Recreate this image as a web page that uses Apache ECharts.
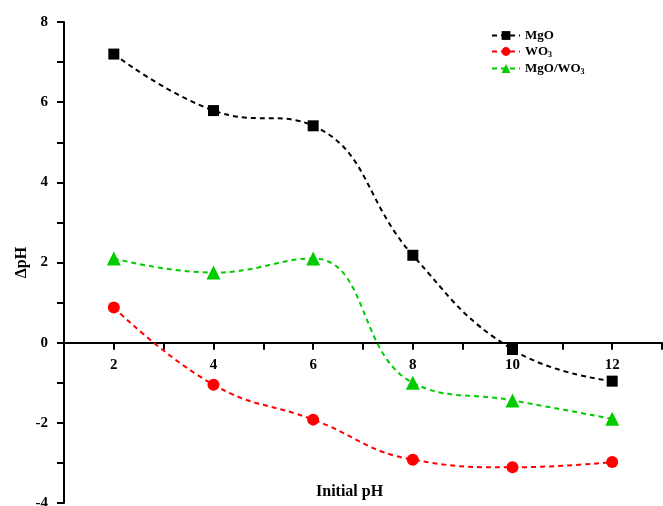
<!DOCTYPE html>
<html><head><meta charset="utf-8">
<script src="https://cdn.jsdelivr.net/npm/echarts@6/dist/echarts.min.js"></script>
<style>html,body{margin:0;padding:0;background:#fff}#c{width:663px;height:506px}</style>
</head><body><div id="c"></div>
<script>
const xValues = [2, 4, 6, 8, 10, 12];
const mgo = [7.2, 5.79, 5.41, 2.18, -0.17, -0.96];
const wo3 = [0.88, -1.05, -1.92, -2.92, -3.11, -2.98];
const mgoWo3 = [2.1, 1.75, 2.1, -1.0, -1.44, -1.9];
const seriesNames = ['MgO', 'WO3', 'MgO/WO3'];
const yTicks = [-4, -2, 0, 2, 4, 6, 8];

const font = 'Liberation Serif, Times New Roman, serif';
const pairs = arr => xValues.map((x, i) => [x, arr[i]]);
const gridTop = 22, gridBottom = 3, H = 506;
const yMin = -4, yMax = 8;
const plotH = H - gridTop - gridBottom;
const zeroOffset = -plotH * (0 - yMin) / (yMax - yMin);
const chart = echarts.init(document.getElementById('c'));
function mk(name, data, color, symbol, size) {
  return {
    name, type: 'line', data: pairs(data), smooth: 0.45,
    symbol, symbolSize: size,
    lineStyle: { color, width: 2, type: [5, 4] },
    itemStyle: { color }
  };
}
chart.setOption({
  animation: false,
  grid: { left: 64, right: 1, top: gridTop, bottom: gridBottom, containLabel: false, outerBoundsMode: 'none' },
  legend: {
    left: 486, top: 24, orient: 'vertical', itemGap: 3,
    itemWidth: 28, itemHeight: 11,
    textStyle: { fontFamily: font, fontWeight: 'bold', fontSize: 13, color: '#000',
      rich: { n: { fontFamily: font, fontWeight: 'bold', fontSize: 13, color: '#000' },
              s: { fontFamily: font, fontWeight: 'bold', fontSize: 8, color: '#000', padding: [7, 0, 0, 0] } } },
    formatter: n => n.replace(/([^3]+)3/g, '{n|$1}{s|3}'),
    data: seriesNames
  },
  xAxis: {
    type: 'value', min: 1, max: 13, interval: 1, position: 'bottom', offset: zeroOffset,
    axisLine: { onZero: false, lineStyle: { color: '#000', width: 2 } },
    axisTick: { show: true, length: 7, lineStyle: { color: '#000', width: 2 } },
    axisLabel: { margin: 15, fontFamily: font, fontWeight: 'bold', fontSize: 15, color: '#000',
      formatter: v => (v % 2 === 0 && v <= 12) ? String(v) : '' },
    splitLine: { show: false }
  },
  yAxis: {
    type: 'value', min: yMin, max: yMax, interval: 1,
    name: 'ΔpH', nameLocation: 'middle', nameGap: 34, nameRotate: 90, nameMoveOverlap: false,
    nameTextStyle: { fontFamily: font, fontWeight: 'bold', fontSize: 16, color: '#000' },
    axisLine: { show: true, onZero: false, lineStyle: { color: '#000', width: 2 } },
    axisTick: { show: true, length: 7, lineStyle: { color: '#000', width: 2 } },
    axisLabel: { margin: 16, fontFamily: font, fontWeight: 'bold', fontSize: 15, color: '#000',
      formatter: v => yTicks.includes(v) ? String(v) : '' },
    splitLine: { show: false }
  },
  graphic: [{ type: 'text', left: 316, top: 484,
    style: { text: 'Initial pH', fontFamily: font, fontWeight: 'bold', fontSize: 16, fill: '#000' } }],
  series: [
    mk('MgO', mgo, '#000000', 'rect', 11),
    mk('WO3', wo3, '#ff0000', 'circle', 12),
    mk('MgO/WO3', mgoWo3, '#00cc00', 'triangle', 14)
  ]
});
</script></body></html>
